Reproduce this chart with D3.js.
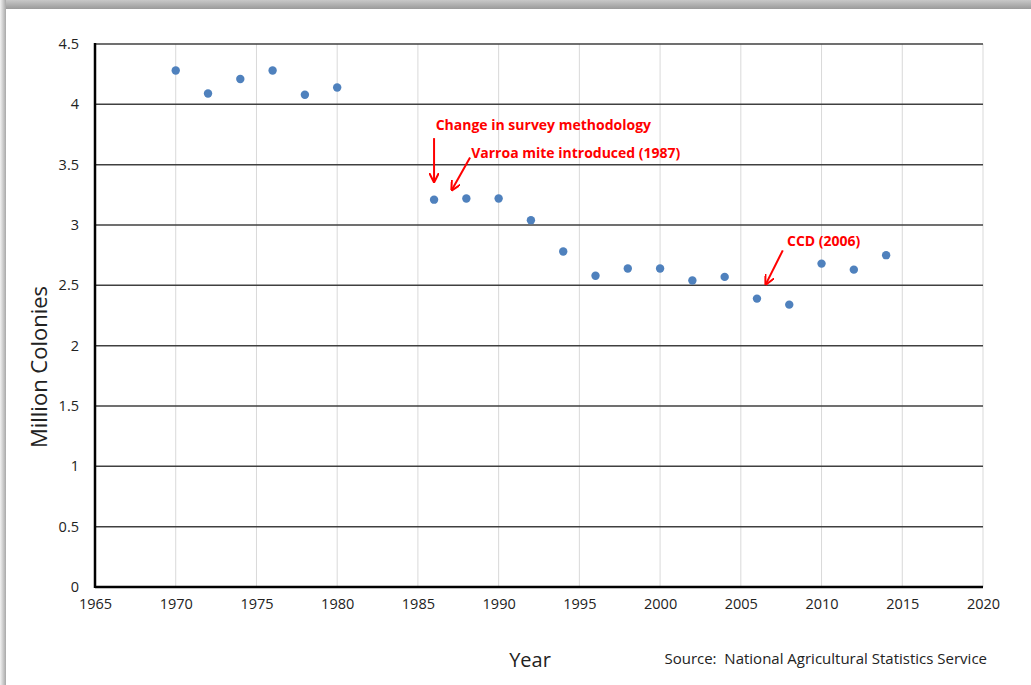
<!DOCTYPE html>
<meta charset="utf-8">
<style>
body { margin: 0; background: #fff; }
svg { display: block; }
.tick text { font: 14.5px "Open Sans", "DejaVu Sans", sans-serif; fill: #222; }
.note { font: bold 14px "Open Sans", sans-serif; fill: #ff0000; }
</style>
<svg width="1031" height="685"></svg>
<script src="https://d3js.org/d3.v7.min.js"></script>
<script>

var years = [1970, 1972, 1974, 1976, 1978, 1980, 1986, 1988, 1990, 1992, 1994, 1996, 1998, 2000, 2002, 2004, 2006, 2008, 2010, 2012, 2014];
var colonies = [4.28, 4.09, 4.21, 4.28, 4.08, 4.14, 3.21, 3.22, 3.22, 3.04, 2.78, 2.58, 2.64, 2.64, 2.54, 2.57, 2.39, 2.34, 2.68, 2.63, 2.75];
var xTicks = [1965, 1970, 1975, 1980, 1985, 1990, 1995, 2000, 2005, 2010, 2015, 2020];
var yTicks = [0, 0.5, 1, 1.5, 2, 2.5, 3, 3.5, 4, 4.5];
var notes = [
  {text: "Change in survey methodology", year: 1986.1, value: 3.79, from: [1986, 3.72], to: [1986, 3.36]},
  {text: "Varroa mite introduced (1987)", year: 1988.3, value: 3.555, from: [1988.23, 3.56], to: [1987.1, 3.29]},
  {text: "CCD (2006)", year: 2007.86, value: 2.83, from: [2007.6, 2.79], to: [2006.55, 2.51]}
];

var svg = d3.select("svg"),
    mLeft = 95, mRight = 983, mTop = 44, mBottom = 587;

// frame shadow
var defs = svg.append("defs");
var gTop = defs.append("linearGradient").attr("id", "shTop").attr("x1", 0).attr("y1", 0).attr("x2", 0).attr("y2", 1);
gTop.append("stop").attr("offset", 0).attr("stop-color", "#c8c8c8");
gTop.append("stop").attr("offset", 1).attr("stop-color", "#9a9a9a");
var gLeft = defs.append("linearGradient").attr("id", "shLeft").attr("x1", 0).attr("y1", 0).attr("x2", 1).attr("y2", 0);
gLeft.append("stop").attr("offset", 0).attr("stop-color", "#f2f2f2");
gLeft.append("stop").attr("offset", 1).attr("stop-color", "#a8a8a8");
svg.append("rect").attr("x", 0).attr("y", 0).attr("width", 1031).attr("height", 9).attr("fill", "url(#shTop)");
svg.append("rect").attr("x", 0).attr("y", 0).attr("width", 6).attr("height", 685).attr("fill", "url(#shLeft)");
svg.append("rect").attr("x", 6).attr("y", 9).attr("width", 1025).attr("height", 676).attr("fill", "#fff");

var x = d3.scaleLinear().domain([1965, 2020]).range([mLeft, mRight]);
var y = d3.scaleLinear().domain([0, 4.5]).range([mBottom, mTop]);

// vertical grid
svg.append("g").selectAll("line")
  .data(xTicks.slice(1))
  .join("line")
    .attr("x1", d => x(d)).attr("x2", d => x(d))
    .attr("y1", mTop).attr("y2", mBottom)
    .attr("stroke", "#d9d9d9").attr("stroke-width", 1);

// horizontal grid
svg.append("g").selectAll("line")
  .data(yTicks.slice(1))
  .join("line")
    .attr("x1", mLeft).attr("x2", mRight)
    .attr("y1", d => y(d)).attr("y2", d => y(d))
    .attr("stroke", "#404040").attr("stroke-width", 1.5);

// axes
var xAxis = svg.append("g")
    .attr("transform", "translate(0," + mBottom + ")")
    .call(d3.axisBottom(x).tickValues(xTicks).tickFormat(d3.format("d")).tickSize(0).tickPadding(12));
xAxis.select(".domain").remove();

var yAxis = svg.append("g")
    .attr("transform", "translate(" + mLeft + ",0)")
    .call(d3.axisLeft(y).tickValues(yTicks).tickFormat(d => d).tickSize(0).tickPadding(16));
yAxis.select(".domain").remove();

svg.append("line").attr("x1", mLeft).attr("x2", mLeft).attr("y1", mTop - 1).attr("y2", mBottom + 1)
  .attr("stroke", "#000").attr("stroke-width", 2.5);
svg.append("line").attr("x1", mLeft).attr("x2", mRight).attr("y1", mBottom).attr("y2", mBottom)
  .attr("stroke", "#000").attr("stroke-width", 2.5);

// points
svg.append("g").selectAll("circle")
  .data(years)
  .join("circle")
    .attr("cx", d => x(d))
    .attr("cy", (d, i) => y(colonies[i]))
    .attr("r", 4.2)
    .attr("fill", "#4f81bd");

// annotations
var marker = defs.append("marker")
    .attr("id", "arrow").attr("viewBox", "0 0 10 10")
    .attr("refX", 9).attr("refY", 5)
    .attr("markerWidth", 5).attr("markerHeight", 5)
    .attr("orient", "auto");
marker.append("path").attr("d", "M0,0 L10,5 L0,10").attr("fill", "none").attr("stroke", "#ff0000").attr("stroke-width", 2);

notes.forEach(function(n) {
  svg.append("text").attr("class", "note").attr("x", x(n.year)).attr("y", y(n.value)).text(n.text);
  svg.append("line")
    .attr("x1", x(n.from[0])).attr("y1", y(n.from[1]))
    .attr("x2", x(n.to[0])).attr("y2", y(n.to[1]))
    .attr("stroke", "#ff0000").attr("stroke-width", 2)
    .attr("marker-end", "url(#arrow)");
});

// titles
svg.append("text")
    .attr("transform", "translate(47,367) rotate(-90)")
    .attr("text-anchor", "middle")
    .style("font", "22px 'Open Sans', sans-serif").style("fill", "#222")
    .text("Million Colonies");

svg.append("text")
    .attr("x", 530).attr("y", 667)
    .attr("text-anchor", "middle")
    .style("font", "20px 'Open Sans', sans-serif").style("fill", "#222")
    .text("Year");

svg.append("text")
    .attr("x", 987).attr("y", 664)
    .attr("text-anchor", "end")
    .style("font", "15px 'Open Sans', sans-serif").style("fill", "#222")
    .attr("xml:space", "preserve")
    .text("Source:  National Agricultural Statistics Service");

</script>
